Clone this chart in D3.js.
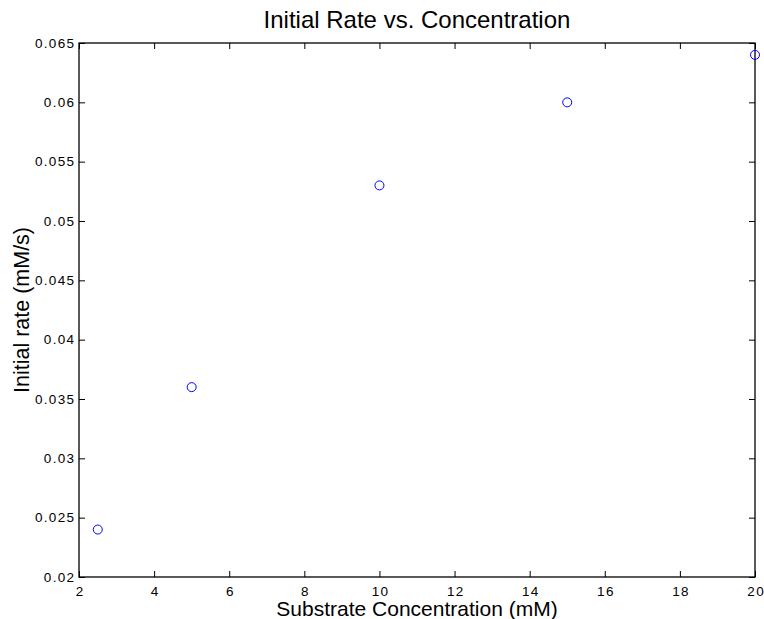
<!DOCTYPE html>
<html>
<head>
<meta charset="utf-8">
<script src="https://cdn.jsdelivr.net/npm/d3@7"></script>
<style>
  html, body { margin: 0; padding: 0; background: #fff; }
  svg { display: block; font-family: "Liberation Sans", Arial, Helvetica, sans-serif; }
</style>
</head>
<body>
<svg id="chart" width="764" height="619"></svg>
<script>
// Substrate concentrations (mM) and measured initial rates (mM/s)
const concentration = [2.5, 5, 10, 15, 20];
const initialRate = [0.024, 0.036, 0.053, 0.060, 0.064];

const xTicks = [2, 4, 6, 8, 10, 12, 14, 16, 18, 20];
const yTicks = [0.02, 0.025, 0.03, 0.035, 0.04, 0.045, 0.05, 0.055, 0.06, 0.065];

const titleText = "Initial Rate vs. Concentration";
const xLabelText = "Substrate Concentration (mM)";
const yLabelText = "Initial rate (mM/s)";

const W = 764, H = 619;
const margin = { left: 79, right: 9, top: 43, bottom: 42 };
const innerW = W - margin.left - margin.right;
const innerH = H - margin.top - margin.bottom;

const svg = d3.select("#chart");
const g = svg.append("g").attr("transform", `translate(${margin.left},${margin.top})`);

const x = d3.scaleLinear().domain([2, 20]).range([0, innerW]);
const y = d3.scaleLinear().domain([0.02, 0.065]).range([innerH, 0]);

const fmtY = d => String(+d.toFixed(3));
const tickLen = 6;

function styleAxis(sel, showLabels) {
  sel.select(".domain").remove();
  sel.selectAll(".tick line").attr("stroke", "#000").attr("stroke-width", 1);
  sel.selectAll(".tick text")
    .attr("fill", "#000")
    .style("font-size", "13.5px")
    .style("letter-spacing", "1.3px")
    .style("display", showLabels ? null : "none");
}

// bottom axis (ticks point inward)
g.append("g")
  .attr("transform", `translate(0,${innerH})`)
  .call(d3.axisBottom(x).tickValues(xTicks).tickSize(-tickLen).tickPadding(9).tickFormat(d3.format("d")))
  .call(s => styleAxis(s, true))
  .call(s => s.selectAll(".tick text").attr("dx", "0.65px"));

// top axis, ticks only
g.append("g")
  .call(d3.axisTop(x).tickValues(xTicks).tickSize(-tickLen).tickFormat(""))
  .call(s => styleAxis(s, false));

// left axis
g.append("g")
  .call(d3.axisLeft(y).tickValues(yTicks).tickSize(-tickLen).tickPadding(5).tickFormat(fmtY))
  .call(s => styleAxis(s, true))
  .call(s => s.selectAll(".tick text").attr("dx", "1.3px"));

// right axis, ticks only
g.append("g")
  .attr("transform", `translate(${innerW},0)`)
  .call(d3.axisRight(y).tickValues(yTicks).tickSize(-tickLen).tickFormat(""))
  .call(s => styleAxis(s, false));

// axes box
g.append("rect")
  .attr("x", 0).attr("y", 0)
  .attr("width", innerW).attr("height", innerH)
  .attr("fill", "none")
  .attr("stroke", "#000")
  .attr("stroke-width", 1.3);

// data markers
g.selectAll("circle.pt")
  .data(concentration.map((c, i) => ({ c, r: initialRate[i] })))
  .enter().append("circle")
  .attr("class", "pt")
  .attr("cx", d => x(d.c))
  .attr("cy", d => y(d.r))
  .attr("r", 4.5)
  .attr("fill", "none")
  .attr("stroke", "#0000ff")
  .attr("stroke-width", 1);

// title
svg.append("text")
  .attr("x", margin.left + innerW / 2)
  .attr("y", 28)
  .attr("text-anchor", "middle")
  .style("font-size", "24px")
  .attr("fill", "#000")
  .text(titleText);

// x label
svg.append("text")
  .attr("x", margin.left + innerW / 2)
  .attr("y", 616)
  .attr("text-anchor", "middle")
  .style("font-size", "21px")
  .attr("fill", "#000")
  .text(xLabelText);

// y label
svg.append("text")
  .attr("transform", `translate(28.5,${margin.top + innerH / 2}) rotate(-90)`)
  .attr("text-anchor", "middle")
  .style("font-size", "21.5px")
  .attr("fill", "#000")
  .text(yLabelText);
</script>
</body>
</html>
